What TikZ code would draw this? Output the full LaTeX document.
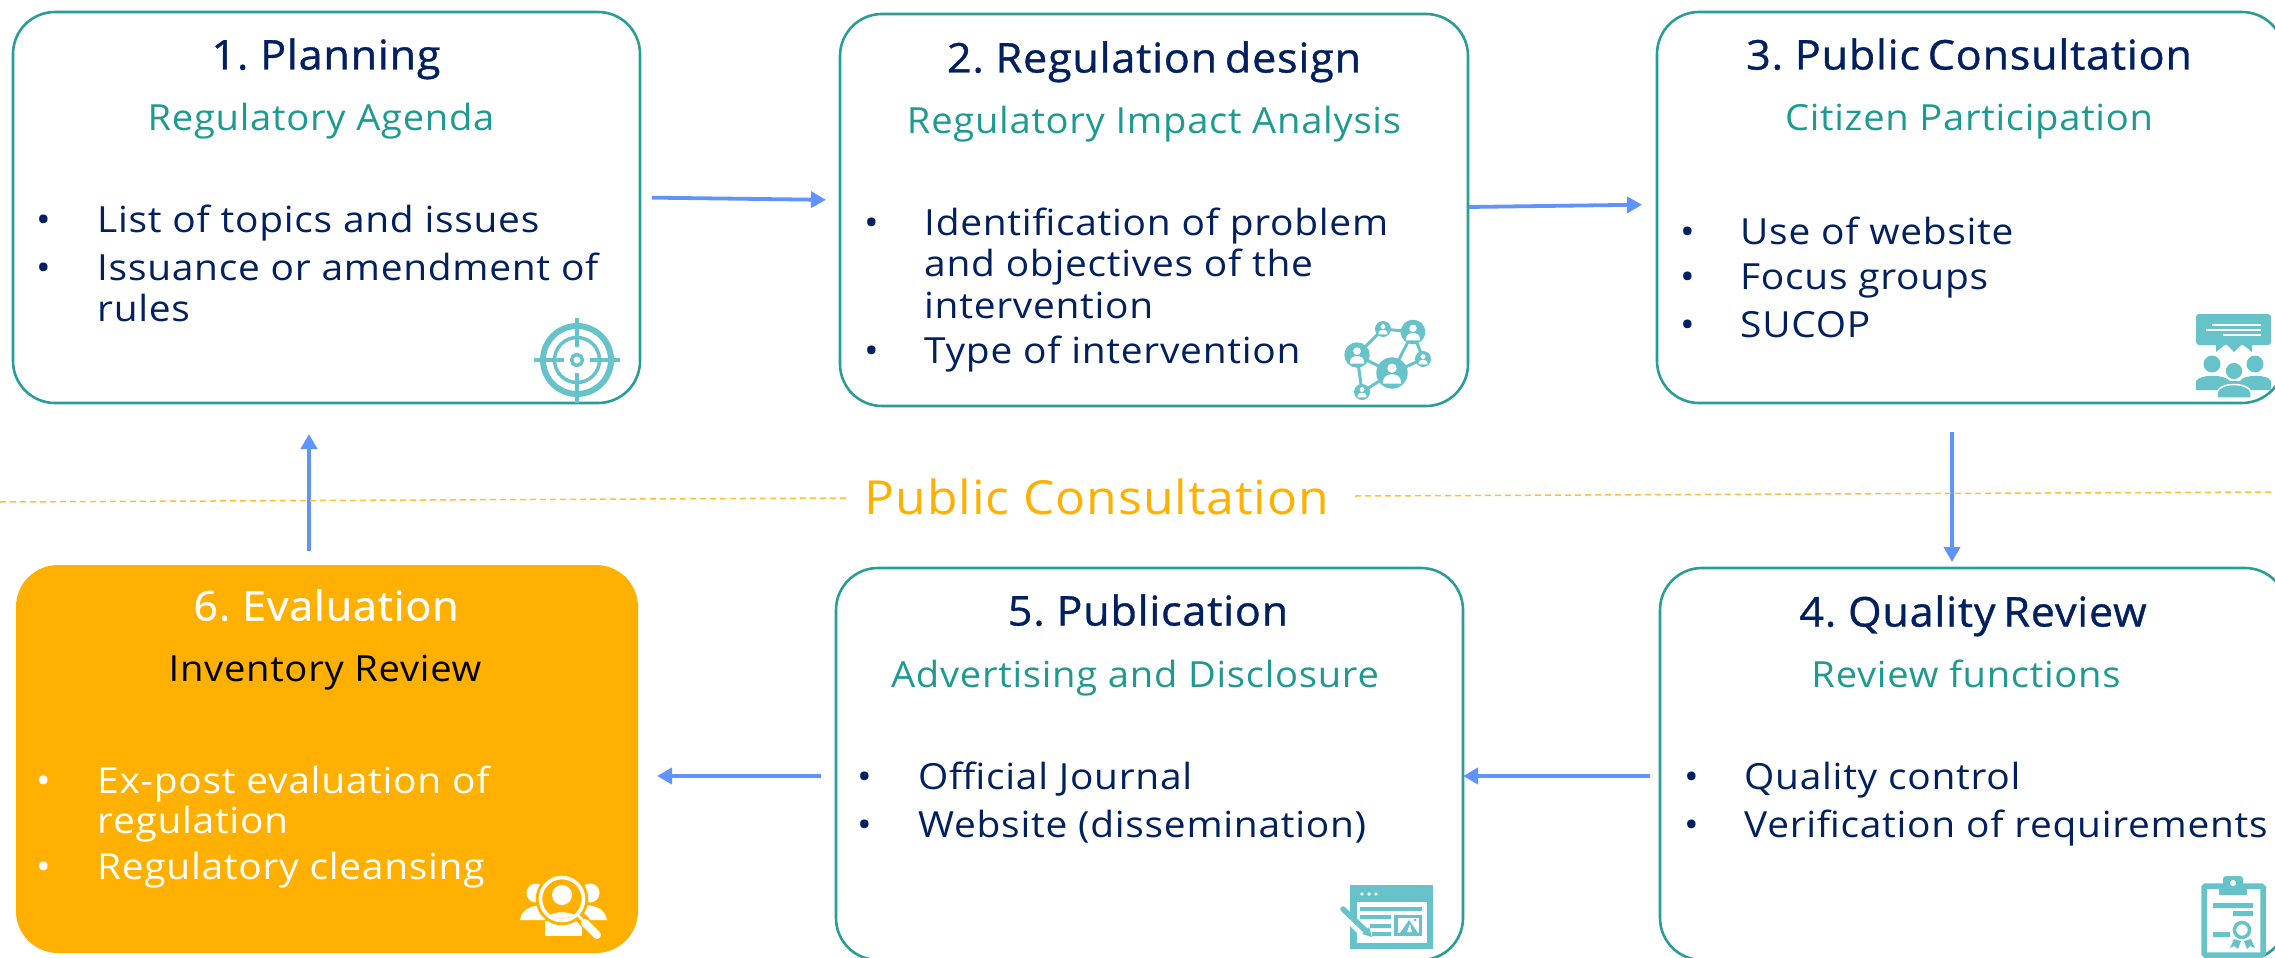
\documentclass[tikz,border=0pt]{standalone}
\usepackage{fontspec}
\setmainfont{Open Sans}
\newfontfamily\titlefont[FakeStretch=1.05,LetterSpace=2,WordSpace=0.65,FakeBold=0.9]{Open Sans}
\newfontfamily\subfont[FakeStretch=1.06,LetterSpace=2]{Open Sans}
\newfontfamily\bodyfont[FakeStretch=1.08,LetterSpace=2]{Open Sans}
\usetikzlibrary{arrows.meta}
\definecolor{navy}{HTML}{002060}
\definecolor{teal2}{HTML}{1F9A90}
\definecolor{edge}{HTML}{2A9D96}
\definecolor{ico}{HTML}{66C3C9}
\definecolor{amber}{HTML}{FFB000}
\definecolor{flow}{HTML}{5F94FF}
\tikzset{
  x=1pt,y=-1pt,
  card/.style={draw=edge,line width=2.6pt,fill=white,rounded corners=42pt,minimum width=#1,inner sep=0pt,outer sep=0pt},
  title/.style={anchor=base,font=\titlefont\fontsize{41}{48}\selectfont,text=navy,inner sep=0pt},
  sub/.style={anchor=base,font=\subfont\fontsize{36}{42}\selectfont,text=teal2,inner sep=0pt},
  body/.style={anchor=base west,font=\bodyfont\fontsize{36}{42}\selectfont,text=navy,inner sep=0pt},
  flowline/.style={draw=flow,line width=3.8pt,-{Triangle[length=15pt,width=16pt]}},
  divider/.style={draw=amber!80,line width=1.5pt,dash pattern=on 6pt off 4pt},
}
\newcommand{\personfig}[4]{% x y scale colour
  \fill[#4] (#1,#2-#3*0.42) circle[radius=#3*0.42];
  \fill[#4] (#1-#3*0.8,#2+#3*0.95) .. controls (#1-#3*0.8,#2+#3*0.25) and (#1-#3*0.4,#2+#3*0.12) .. (#1,#2+#3*0.12)
     .. controls (#1+#3*0.4,#2+#3*0.12) and (#1+#3*0.8,#2+#3*0.25) .. (#1+#3*0.8,#2+#3*0.95) -- cycle;
}
\begin{document}
\begin{tikzpicture}
\useasboundingbox (0,0) rectangle (2275,958);
\clip (0,0) rectangle (2275,958);
% cards
\node[card=627pt,minimum height=391pt] (c1) at (326.5,207.5) {};
\node[card=628pt,minimum height=392pt] (c2) at (1154,210) {};
\node[card=627pt,minimum height=391pt] (c3) at (1970.5,207.5) {};
\node[card=627pt,minimum height=392pt] (c4) at (1973.5,764) {};
\node[card=627pt,minimum height=392pt] (c5) at (1149.5,764) {};
\node[card=622pt,minimum height=388pt,draw=none,fill=amber] (c6) at (327,759) {};
% card 1
\node[title] (t1) at (326,69.5) {1. Planning};
\node[sub] (s1) at (321,130.5) {Regulatory Agenda};
\node[body] (b1a) at (36,232) {•};
\node[body] (l1a) at (97,232) {List of topics and issues};
\node[body] (b1b) at (36,280) {•};
\node[body] (l1b) at (97,280) {Issuance or amendment of};
\node[body] (l1c) at (97,321) {rules};
% card 2
\node[title] (t2) at (1154,72.5) {2. Regulation design};
\node[sub] (s2) at (1154,133.5) {Regulatory Impact Analysis};
\node[body] (b2a) at (864,235) {•};
\node[body] (l2a) at (924,235) {Identification of problem};
\node[body] (l2b) at (924,276) {and objectives of the};
\node[body] (l2c) at (924,318) {intervention};
\node[body] (b2b) at (864,363) {•};
\node[body] (l2d) at (924,363) {Type of intervention};
% card 3
\node[title] (t3) at (1969,69.5) {3. Public Consultation};
\node[sub] (s3) at (1969,130.5) {Citizen Participation};
\node[body] (b3a) at (1680,244) {•};
\node[body] (l3a) at (1740,244) {Use of website};
\node[body] (b3b) at (1680,289) {•};
\node[body] (l3b) at (1740,289) {Focus groups};
\node[body] (b3c) at (1680,337) {•};
\node[body] (l3c) at (1740,337) {SUCOP};
% card 4
\node[title] (t4) at (1973,626.5) {4. Quality Review};
\node[sub] (s4) at (1966,687) {Review functions};
\node[body] (b4a) at (1684,789) {•};
\node[body] (l4a) at (1744,789) {Quality control};
\node[body] (b4b) at (1684,837) {•};
\node[body] (l4b) at (1744,837) {Verification of requirements};
% card 5
\node[title] (t5) at (1148,625.5) {5. Publication};
\node[sub] (s5) at (1135,687) {Advertising and Disclosure};
\node[body] (b5a) at (857,789) {•};
\node[body] (l5a) at (918,789) {Official Journal};
\node[body] (b5b) at (857,837) {•};
\node[body] (l5b) at (918,837) {Website (dissemination)};
% card 6
\node[title,text=white] (t6) at (326,620.5) {6. Evaluation};
\node[sub,text=black] (s6) at (325,681.5) {Inventory Review};
\node[body,text=white] (b6a) at (36,793) {•};
\node[body,text=white] (l6a) at (97,793) {Ex-post evaluation of};
\node[body,text=white] (l6b) at (97,833) {regulation};
\node[body,text=white] (b6b) at (36,879) {•};
\node[body,text=white] (l6c) at (97,879) {Regulatory cleansing};
% connectors
\draw[flowline,shorten <=12pt,shorten >=14pt] ([yshift=10pt]c1.east) -- ([yshift=10pt]c2.west);
\draw[flowline,shorten <=1pt,shorten >=15pt] ([yshift=3pt]c2.east) -- ([yshift=3pt]c3.west);
\draw[flowline,shorten <=29pt,shorten >=6pt] ([xshift=-18.5pt]c3.south) -- ([xshift=-21.5pt]c4.north);
\draw[flowline,shorten <=10pt,shorten >=0pt] ([yshift=-12pt]c4.west) -- ([yshift=-12pt]c5.east);
\draw[flowline,shorten <=15pt,shorten >=19pt] ([yshift=-12pt]c5.west) -- ([yshift=-17pt]c6.east);
\draw[flowline,shorten <=14pt,shorten >=31pt] ([xshift=-18pt]c6.north) -- ([xshift=-17.5pt]c1.south);
% divider
\node[anchor=base,font=\subfont\fontsize{47}{55}\selectfont,text=amber,inner sep=0pt] (pc) at (1097,514.5) {Public Consultation};
\coordinate (dl) at (0,502);
\coordinate (dr) at (2275,492);
\draw[divider] (dl) -- (847,498) coordinate (dlend);
\draw[divider] (1355,496) coordinate (drstart) -- (dr);
% target icon
\draw[ico,line width=6pt] (577,360) circle[radius=34];
\draw[ico,line width=3.5pt] (577,360) circle[radius=22.5];
\draw[ico,line width=3.5pt] (577,360) circle[radius=5.5];
\draw[ico,line width=4pt] (534,360) -- (564,360) (590,360) -- (620,360) (577,318) -- (577,347) (577,373) -- (577,403);
% network icon
\draw[ico,line width=3pt] (1357,355) -- (1383,329) -- (1413,332) -- (1392,373) -- (1357,355) -- (1362,392) -- (1392,373) -- (1423,359) -- (1413,332);
\foreach \px/\py/\pr in {1357/355/12.7,1383/329/8,1413/332/12.3,1423/359/8,1392/373/15.7,1362/392/8}{
  \fill[ico] (\px,\py) circle[radius=\pr];
  \personfig{\px}{\py}{\pr*0.72}{white}
}
% consultation icon
\fill[ico,rounded corners=3pt] (2196,314) rectangle (2271,345);
\fill[ico] (2216,344) -- (2216,352) -- (2226,344) -- (2234,352) -- (2242,344) -- (2252,352) -- (2252,344) -- cycle;
\draw[white,line width=1.4pt] (2212,325) -- (2261,325) (2206,330) -- (2261,330) (2223,335) -- (2261,335);
\fill[ico] (2212,364) circle[radius=8.5] (2255,364) circle[radius=8.5];
\fill[ico] (2196,390) -- (2196,381) .. controls (2200,374) and (2224,374) .. (2230,381) -- (2240,381) .. controls (2244,374) and (2268,374) .. (2271,381) -- (2271,390) -- cycle;
\fill[ico,draw=white,line width=1.5pt] (2234,371) circle[radius=9];
\fill[ico,draw=white,line width=1.5pt] (2217,398) -- (2217,392) .. controls (2220,382) and (2248,382) .. (2251,392) -- (2251,398) -- cycle;
% checklist icon
\draw[ico,line width=5.5pt,fill=white,rounded corners=1.5pt] (2204,886) rectangle (2263,955);
\fill[ico,rounded corners=3pt] (2223,876) rectangle (2243,890);
\fill[ico] (2219,884) rectangle (2247,895);
\fill[white] (2233,883) circle[radius=3];
\fill[ico] (2213,903) rectangle (2253,908) (2233,911) rectangle (2253,916) (2213,932) rectangle (2230,937);
\draw[ico,line width=3.5pt] (2242,930) circle[radius=7.5];
\fill[ico] (2234,939) -- (2241,941) -- (2238,949) -- (2234,946) -- (2230,948) -- cycle;
\fill[ico] (2244,941) -- (2251,939) -- (2255,948) -- (2250,946) -- (2247,949) -- cycle;
% publication icon
\fill[ico] (1350,885) rectangle (1433,949);
\fill[white] (1357,902) rectangle (1427,943);
\fill[white] (1362,894) circle[radius=1.8] (1369,894) circle[radius=1.8] (1376,894) circle[radius=1.8];
\fill[ico] (1360,907) rectangle (1422,911) (1360,915) rectangle (1391,919) (1370,924) rectangle (1391,928) (1372,932) rectangle (1391,936);
\fill[ico] (1394,915) rectangle (1422,936);
\fill[white] (1398,918) rectangle (1419,933);
\fill[ico] (1400,933) -- (1409,920) -- (1418,933) -- cycle;
\fill[white] (1407,932) -- (1410,924) -- (1412,932) -- cycle;
\fill[ico] (1415,920) circle[radius=1.5];
\draw[white,line width=9pt] (1342,912) -- (1369,938);
\draw[ico,line width=5.5pt,line cap=round] (1343,909) -- (1366,931);
\fill[ico] (1362,934) -- (1369,927) -- (1372,937) -- cycle;
% evaluation icon
\fill[white] (536,893) circle[radius=9.5] (590,893) circle[radius=9.5];
\fill[white] (520,920) .. controls (522,907) and (535,905) .. (545,905) -- (545,920) -- cycle;
\fill[white] (607,920) .. controls (605,907) and (592,905) .. (582,905) -- (582,920) -- cycle;
\fill[white] (545,936) -- (545,921) -- (582,921) -- (582,936) -- cycle;
\draw[amber,line width=2.5pt,fill=amber] (562,899) circle[radius=25];
\draw[white,line width=3.6pt] (562,899) circle[radius=21.5];
\fill[white] (562,895) circle[radius=10];
\begin{scope}
\clip (562,899) circle[radius=19.5];
\fill[white] (541,925) .. controls (545,908) and (579,908) .. (583,925) -- cycle;
\end{scope}
\draw[amber,line width=11pt] (580,917) -- (598,936);
\draw[white,line width=8pt,line cap=round] (585,923) -- (597,935);
\draw[white,line width=2.5pt] (577,914) -- (585,923);
\end{tikzpicture}
\end{document}
